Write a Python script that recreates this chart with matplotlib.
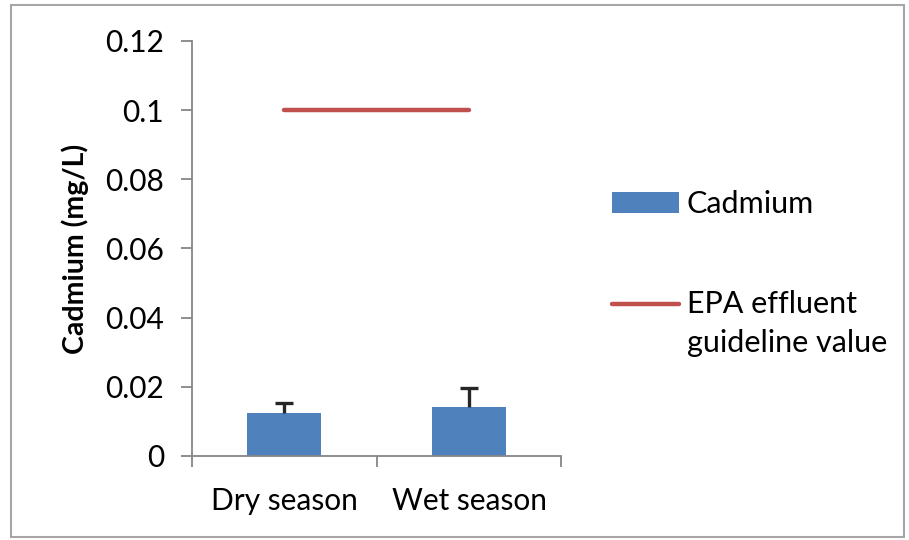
import matplotlib
matplotlib.use('Agg')
import matplotlib.pyplot as plt
from matplotlib.legend_handler import HandlerLine2D
import numpy as np

# values
seasons = ['Dry season', 'Wet season']
cadmium = [0.0125, 0.0142]
cadmium_err = [0.0027, 0.0055]
epa_limit = [0.1, 0.1]
y_ticks = [0, 0.02, 0.04, 0.06, 0.08, 0.1, 0.12]
y_tick_labels = ['0', '0.02', '0.04', '0.06', '0.08', '0.1', '0.12']

plt.rcParams['font.family'] = ['Lato', 'DejaVu Sans']

BLUE = '#4F81BD'
RED = '#C0504D'
GRAY = '#868686'
FS = 21.5


class FirstLineHandler(HandlerLine2D):
    # put the line next to the first text line, as Excel does
    def create_artists(self, legend, orig_handle, xdescent, ydescent, width, height, fontsize, trans):
        arts = super().create_artists(legend, orig_handle, xdescent, ydescent, width, height, fontsize, trans)
        for a in arts:
            a.set_ydata(np.asarray(a.get_ydata()) + 0.66 * fontsize)
        return arts


fig = plt.figure(figsize=(9.09, 5.40), dpi=100)
ax = fig.add_axes([0.2112, 0.1556, 0.4065, 0.7685])

x = np.arange(len(seasons))
tops = np.array(cadmium) + np.array(cadmium_err)
bars = ax.bar(x, cadmium, width=0.4, color=BLUE, label='Cadmium', zorder=2)
ax.vlines(x, cadmium, tops, color='#262626', lw=2.4, zorder=3)
ax.plot(x, tops, ls='none', marker='_', ms=13, mew=2.4, color='#262626', zorder=3)
line, = ax.plot(x, epa_limit, color=RED, lw=3.2, solid_capstyle='round',
                label='EPA effluent\nguideline value', zorder=2)

ax.set_xlim(-0.5, 1.5)
ax.set_ylim(0, 0.12)
ax.set_yticks(y_ticks)
ax.set_yticklabels(y_tick_labels)
ax.set_xticks(x)
ax.set_xticklabels(seasons)
ax.set_xticks([-0.5, 0.5, 1.5], minor=True)
ax.tick_params(axis='x', which='major', length=0, pad=22, labelsize=FS)
ax.tick_params(axis='x', which='minor', length=8, color=GRAY, width=1.3)
ax.tick_params(axis='y', length=8, color=GRAY, width=1.3, pad=12, labelsize=FS)

for side in ['top', 'right']:
    ax.spines[side].set_visible(False)
for side in ['left', 'bottom']:
    ax.spines[side].set_color(GRAY)
    ax.spines[side].set_linewidth(1.3)

ax.set_ylabel('Cadmium (mg/L)', fontsize=20.5, fontweight='bold', labelpad=12)

leg = ax.legend(handles=[bars, line], loc='upper left', bbox_to_anchor=(1.137, 0.64),
                frameon=False, fontsize=22, handlelength=2.2, handleheight=0.65,
                handletextpad=0.25, labelspacing=2.35, borderpad=0, borderaxespad=0,
                handler_map={line: FirstLineHandler()})
for t in leg.get_texts():
    t.set_linespacing(1.45)

# outer chart border
fig.patches.append(plt.Rectangle((0.012, 0.006), 0.983, 0.985, transform=fig.transFigure,
                                 fill=False, edgecolor='#A6A6A6', lw=1.5))

fig.savefig('out.png', dpi=100)
